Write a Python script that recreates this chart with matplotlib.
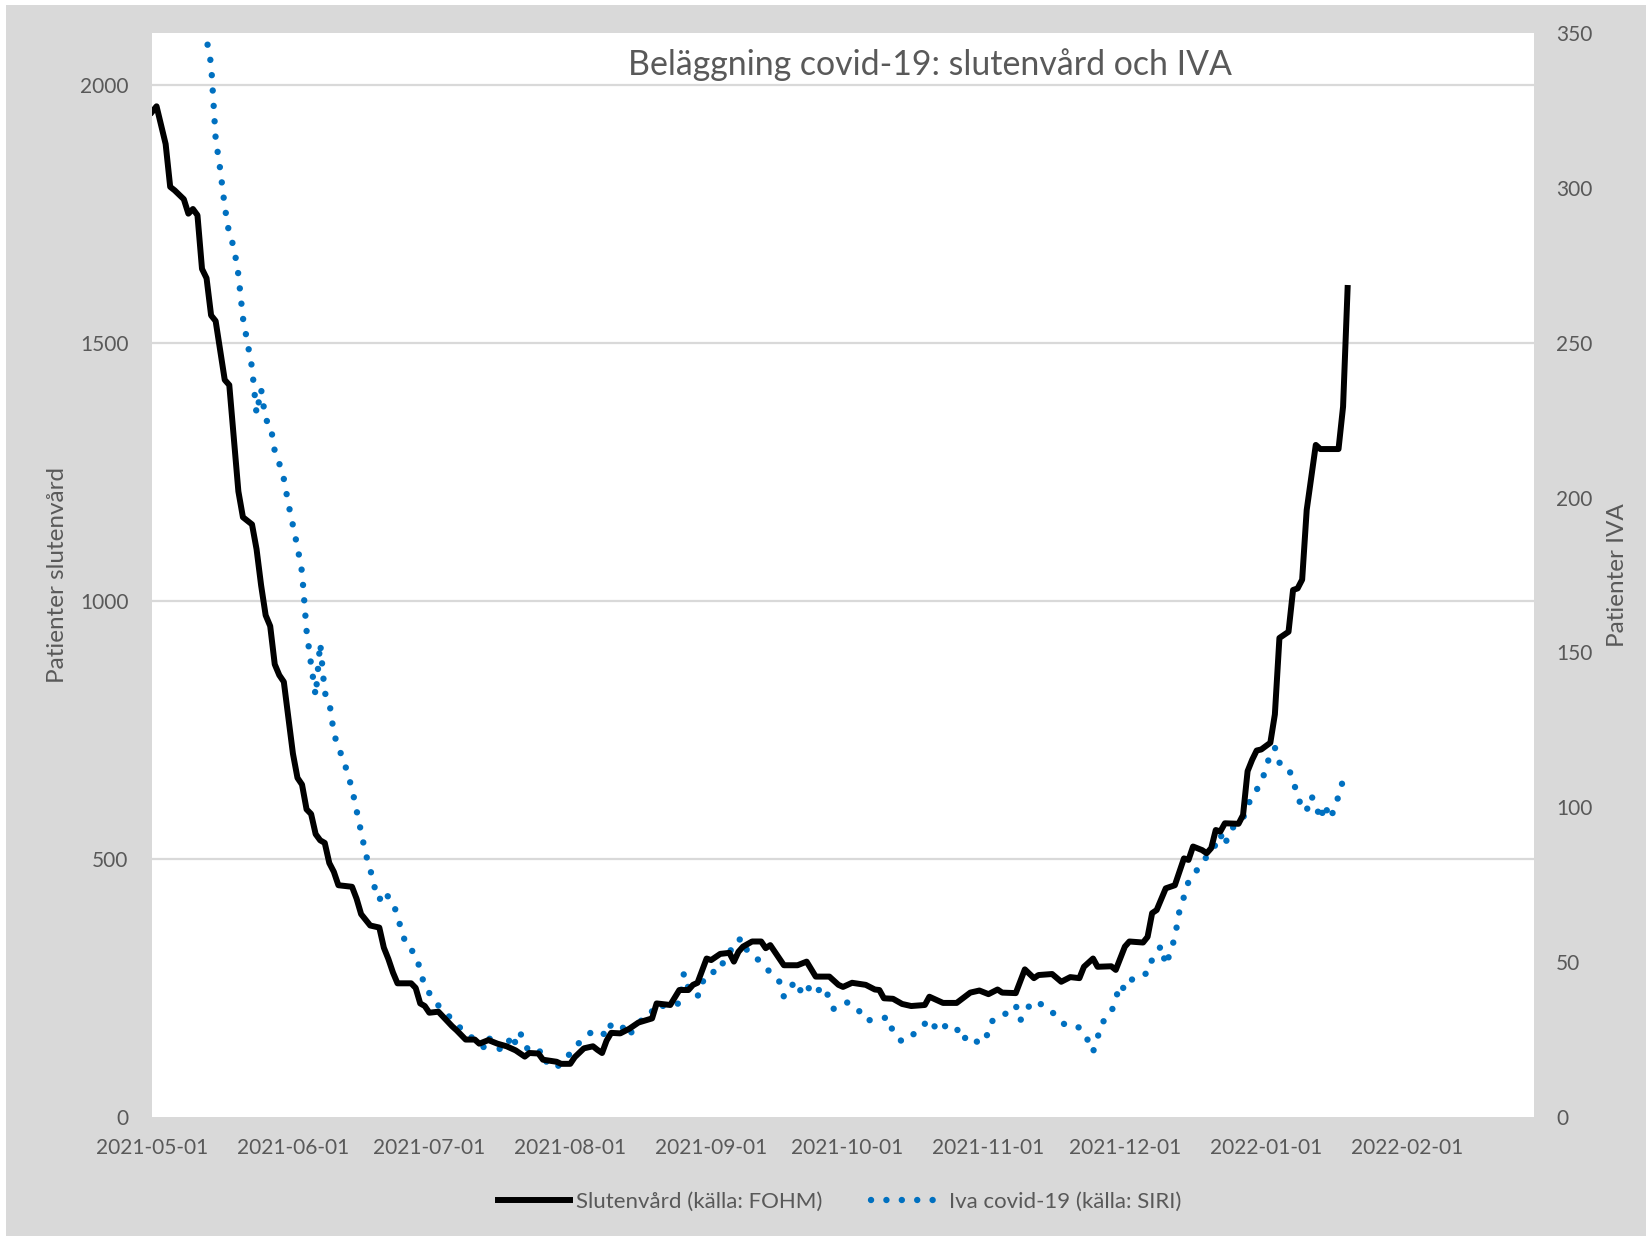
import matplotlib
matplotlib.use("Agg")
import matplotlib.pyplot as plt
from matplotlib.lines import Line2D
from matplotlib.patches import Rectangle
import pandas as pd

# ---------------- data ----------------
START = "2021-05-01"

# Slutenvård (källa: FOHM) – day offset from 2021-05-01, patients (left axis)
sluten_days = [0, 1, 3, 4, 5, 7, 8, 9, 10, 11, 12, 13, 14, 16, 17, 19, 20, 22, 23, 24,
               25, 26, 27, 28, 29, 30, 31, 32, 33, 34, 35, 36, 37, 38, 39, 40, 41, 44, 45, 46,
               48, 50, 51, 52, 53, 54, 57, 58, 59, 60, 61, 63, 66, 67, 69, 71, 72, 74, 76, 78,
               80, 82, 83, 85, 86, 89, 90, 92, 93, 95, 97, 98, 99, 100, 101, 103, 105, 107, 110, 111,
               114, 116, 118, 119, 120, 122, 123, 125, 127, 128, 129, 130, 132, 134, 135, 136, 137, 139, 142, 144,
               146, 149, 151, 152, 154, 157, 159, 160, 161, 163, 165, 167, 170, 171, 174, 177, 180, 182, 184, 186,
               187, 190, 192, 194, 195, 198, 200, 202, 204, 205, 207, 208, 211, 212, 214, 215, 218, 219, 220, 221,
               223, 225, 226, 227, 228, 229, 231, 232, 233, 234, 235, 236, 239, 240, 241, 242, 243, 244, 246, 247,
               248, 250, 251, 252, 253, 254, 256, 257, 261, 262, 263]
sluten_vals = [1947, 1958, 1885, 1802, 1795, 1778, 1750, 1759, 1747, 1643, 1625, 1553, 1542, 1428, 1418, 1212, 1162, 1148, 1100, 1030,
               972, 951, 877, 856, 843, 773, 704, 657, 644, 596, 587, 548, 536, 531, 492, 475, 449, 446, 423, 393,
               371, 367, 328, 306, 280, 259, 259, 250, 220, 215, 202, 204, 176, 168, 150, 150, 142, 149, 142, 137,
               129, 117, 124, 123, 111, 107, 103, 103, 116, 133, 137, 130, 124, 148, 163, 162, 171, 183, 191, 220,
               217, 246, 246, 256, 260, 307, 304, 316, 318, 301, 320, 330, 340, 340, 327, 333, 320, 294, 294, 301,
               272, 272, 256, 252, 260, 256, 247, 246, 230, 229, 219, 215, 217, 233, 221, 221, 241, 245, 238, 247,
               241, 240, 286, 269, 275, 277, 262, 271, 269, 291, 307, 291, 292, 285, 330, 340, 338, 349, 395, 401,
               443, 449, 475, 501, 498, 524, 517, 511, 521, 556, 553, 569, 568, 585, 670, 692, 710, 712, 725, 780,
               928, 940, 1021, 1024, 1041, 1176, 1302, 1294, 1294, 1376, 1606]

# Iva covid-19 (källa: SIRI) – day offset from 2021-05-01, patients (right axis)
iva_days = [0, 5, 8, 10, 11, 12, 13, 14, 15, 16, 17, 18, 19, 20, 21, 22, 23, 24, 25, 26,
            27, 28, 29, 30, 31, 32, 33, 34, 35, 36, 37, 38, 39, 40, 41, 42, 43, 44, 45, 46,
            47, 48, 49, 50, 51, 52, 53, 54, 55, 56, 57, 58, 59, 60, 61, 62, 63, 64, 65, 66,
            67, 68, 69, 70, 71, 72, 73, 74, 75, 76, 78, 79, 80, 81, 82, 83, 84, 86, 87, 89,
            91, 93, 95, 97, 99, 100, 101, 103, 105, 106, 108, 109, 111, 113, 115, 116, 117, 118, 120, 121,
            123, 124, 125, 127, 128, 130, 131, 134, 136, 138, 139, 141, 142, 144, 145, 148, 149, 150, 153, 155,
            157, 159, 162, 163, 165, 167, 169, 171, 173, 175, 177, 178, 180, 182, 184, 185, 188, 190, 191, 192,
            194, 197, 199, 201, 204, 206, 207, 208, 209, 211, 212, 213, 214, 216, 219, 220, 222, 223, 224, 225,
            226, 227, 228, 229, 230, 231, 233, 234, 235, 236, 237, 240, 241, 242, 244, 245, 246, 247, 248, 250,
            251, 252, 253, 254, 255, 256, 257, 258, 259, 260, 261, 262, 263]
iva_vals = [450, 410, 385, 368, 358, 348, 340, 316, 306, 294, 285, 281, 272, 258, 250, 242, 227, 235, 225, 224,
            215, 211, 206, 198, 191, 184, 176, 157, 146, 136, 153, 137, 134, 124, 119, 116, 111, 106, 99, 92,
            85, 80, 74, 70, 73, 71, 69.5, 64.7, 59.8, 55, 54, 52.4, 47.5, 42, 40, 38, 36, 34.5, 33, 31.5,
            30, 28.5, 27, 26, 25, 24, 22.5, 26.1, 23, 22, 22, 26.7, 23.8, 27.3, 23, 21.5, 20.3, 21.6, 16.7, 16.1,
            18.5, 22.9, 25, 28, 27.3, 26, 30, 30, 26, 29, 31.6, 31.8, 36.5, 35.6, 36.4, 36.7, 46.4, 41.5, 38.8, 43.7,
            44.8, 48.8, 48.5, 52.6, 56.6, 57.7, 53.2, 50.1, 46.6, 43.7, 38.8, 42.9, 39.9, 43.3, 39.6, 42.1, 37.8, 34.8, 37.0, 35.4,
            31.1, 31.5, 32.2, 27.3, 24.3, 26.1, 28.6, 31.6, 27.5, 30.0, 28.8, 24.8, 26.5, 23.5, 27.0, 31.6, 33.5, 36.1, 31.1, 34.2,
            37.5, 35.4, 32.4, 29.5, 28.9, 24.5, 21.0, 25.7, 30.4, 33.7, 38.3, 42.9, 41.0, 45.3, 46.4, 50.9, 55.3, 49, 53.2, 58,
            66.5, 71.1, 76, 78, 80, 82.4, 85.5, 88.1, 91.4, 87.6, 92.4, 96.5, 100.4, 103.7, 107.7, 112.6, 117.2, 119.3, 114.4, 112.9,
            108.3, 104.2, 99, 99, 103.7, 101, 96, 101, 96.3, 99, 103.7, 108.8, 107.4]

tick_dates = ["2021-05-01", "2021-06-01", "2021-07-01", "2021-08-01", "2021-09-01",
              "2021-10-01", "2021-11-01", "2021-12-01", "2022-01-01", "2022-02-01"]
left_ticks = [0, 500, 1000, 1500, 2000]
right_ticks = [0, 50, 100, 150, 200, 250, 300, 350]

title = "Beläggning covid-19: slutenvård och IVA"
ylabel_left = "Patienter slutenvård"
ylabel_right = "Patienter IVA"
label_sluten = "Slutenvård (källa: FOHM)"
label_iva = "Iva covid-19 (källa: SIRI)"

# ---------------- figure ----------------
W, H = 1646, 1236
FONT = ["Lato", "DejaVu Sans"]
plt.rcParams["font.family"] = FONT
TXT = "#595959"
GRAY_BG = "#D9D9D9"
BLUE = "#0070C0"
IVA_LW = 4.6
DOTS = (0, (0.01, 2.4))

fig = plt.figure(figsize=(W / 100, H / 100), dpi=100, facecolor="white")
fig.patches.append(Rectangle((6 / W, 0), 1 - 6 / W, 1 - 5 / H, transform=fig.transFigure,
                             facecolor=GRAY_BG, edgecolor="none", zorder=-10))

L, R, T, B = 152, 1534, 33, 1117
ax2 = fig.add_axes([L / W, 1 - B / H, (R - L) / W, (B - T) / H])   # background + IVA (right)
ax = fig.add_axes([L / W, 1 - B / H, (R - L) / W, (B - T) / H], sharex=ax2)  # slutenvård (left)
ax2.set_facecolor("white")
ax.patch.set_visible(False)

t0 = pd.Timestamp(START)
sd = [t0 + pd.Timedelta(days=d) for d in sluten_days]
idd = [t0 + pd.Timedelta(days=d) for d in iva_days]

ax2.plot(idd, iva_vals, color=BLUE, lw=IVA_LW, linestyle=DOTS, dash_capstyle="round")
ax.plot(sd, sluten_vals, color="black", lw=4.3, solid_joinstyle="round")

ax.set_xlim(pd.Timestamp("2021-05-01"), pd.Timestamp("2022-03-01"))
ax.set_ylim(0, 2100)
ax2.set_ylim(0, 350)

ax.set_yticks(left_ticks)
ax2.set_yticks(right_ticks)
ax2.yaxis.tick_right()
ax.set_xticks([pd.Timestamp(d) for d in tick_dates])
ax.set_xticklabels(tick_dates)
ax2.tick_params(axis="x", labelbottom=False, length=0)

# grid lines of the left axis, drawn on the background axes below the lines
for v in left_ticks[1:]:
    ax2.axhline(v / 6.0, color="#D9D9D9", lw=1.6, zorder=0)

for a in (ax, ax2):
    for s in a.spines.values():
        s.set_visible(False)

ax.tick_params(axis="y", length=0, pad=17, labelsize=15, labelcolor=TXT)
ax.tick_params(axis="x", length=0, pad=15, labelsize=15, labelcolor=TXT)
ax2.tick_params(axis="y", length=0, pad=16, labelsize=15, labelcolor=TXT)

fig.text(57 / W, 1 - 575 / H, ylabel_left, rotation=90, ha="center", va="center",
         fontsize=17.5, color=TXT)
fig.text(1618 / W, 1 - 575 / H, ylabel_right, rotation=90, ha="center", va="center",
         fontsize=17.5, color=TXT)
fig.text(930 / W, 1 - 65 / H, title, ha="center", va="center", fontsize=24.4, color=TXT)

handles = [Line2D([], [], color="black", lw=4.3),
           Line2D([], [], color=BLUE, lw=IVA_LW, linestyle=DOTS, dash_capstyle="round")]
fig.legend(handles, [label_sluten, label_iva], loc="center", ncol=2,
           bbox_to_anchor=(840 / W, 1 - 1202 / H), frameon=False, fontsize=16,
           labelcolor=TXT, handlelength=3.2, handletextpad=0.3, columnspacing=2.2)

fig.savefig("out.png", dpi=100, facecolor="white")
